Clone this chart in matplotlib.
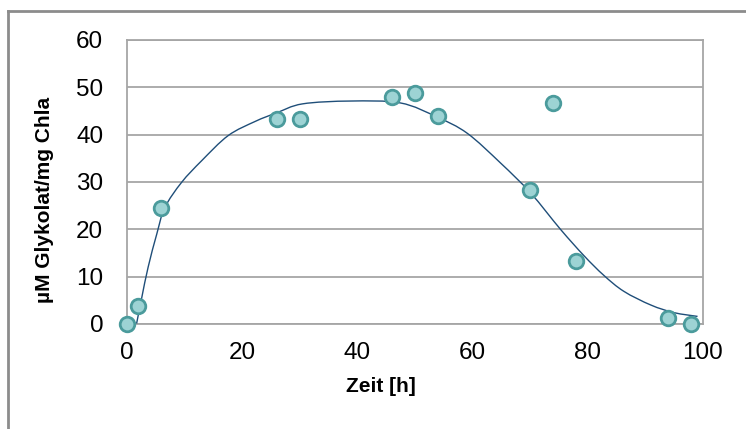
import matplotlib
matplotlib.use("Agg")
import matplotlib.pyplot as plt
from matplotlib.path import Path
from matplotlib.patches import PathPatch
from matplotlib.lines import Line2D

plt.rcParams['font.family'] = ['Liberation Sans', 'DejaVu Sans']

# measured points
zeit = [0, 2, 6, 26, 30, 46, 50, 54, 70, 74, 78, 94, 98]
glykolat = [0, 3.8, 24.5, 43.3, 43.3, 48.0, 48.8, 43.9, 28.3, 46.7, 13.3, 1.3, 0]

# fitted trend line
fit_x = [1.7, 2.6, 3.7, 5.2, 6.6, 9.5, 13.0, 17.6, 22.3, 26.0, 30.5,
         38.8, 47.5, 53.9, 59.1, 64.9, 70.1, 75.3, 79.4, 82.8, 86.3, 91.0,
         95.0, 99.1]
fit_y = [0.1, 5.6, 12.0, 19.0, 24.6, 29.9, 34.5, 39.8, 42.8, 44.6, 46.5,
         47.1, 46.7, 43.7, 40.3, 34.0, 27.7, 20.0, 14.4, 10.3, 6.9, 4.0,
         2.4, 1.6]

x_ticks = [0, 20, 40, 60, 80, 100]
y_ticks = [0, 10, 20, 30, 40, 50, 60]


def smooth_path(xs, ys):
    # Catmull-Rom style bezier, like the spreadsheet "smoothed line"
    pts = list(zip(xs, ys))
    verts = [pts[0]]
    codes = [Path.MOVETO]
    n = len(pts)
    for i in range(n - 1):
        p0 = pts[i - 1] if i > 0 else pts[i]
        p1 = pts[i]
        p2 = pts[i + 1]
        p3 = pts[i + 2] if i + 2 < n else pts[i + 1]
        c1 = (p1[0] + (p2[0] - p0[0]) / 6, p1[1] + (p2[1] - p0[1]) / 6)
        c2 = (p2[0] - (p3[0] - p1[0]) / 6, p2[1] - (p3[1] - p1[1]) / 6)
        verts += [c1, c2, p2]
        codes += [Path.CURVE4] * 3
    return Path(verts, codes)


fig = plt.figure(figsize=(7.46, 4.29), dpi=100, facecolor='white')
ax = fig.add_axes([0.170, 0.2448, 0.772, 0.662])

ax.set_xlim(0, 100)
ax.set_ylim(0, 60)
ax.set_xticks(x_ticks)
ax.set_yticks(y_ticks)
ax.grid(axis='y', color='#a6a6a6', linewidth=1.3)
ax.set_axisbelow(True)
for sp in ax.spines.values():
    sp.set_color('#a6a6a6')
    sp.set_linewidth(1.3)
ax.tick_params(axis='both', length=0, labelsize=17.5, colors='black')
ax.tick_params(axis='y', pad=17)
ax.tick_params(axis='x', pad=13)

patch = PathPatch(smooth_path(fit_x, fit_y), facecolor='none',
                  edgecolor='#1f4e79', linewidth=1.0, zorder=3)
ax.add_patch(patch)

ax.plot(zeit, glykolat, linestyle='none', marker='o', markersize=10.5,
        markerfacecolor='#9dd3d4', markeredgecolor='#4b9b9c',
        markeredgewidth=2.0, clip_on=False, zorder=4)

fig.text(381 / 746, 1 - 386 / 429, 'Zeit [h]', ha='center', va='center',
         fontsize=15, fontweight='bold')
fig.text(45 / 746, 1 - 200 / 429, 'µM Glykolat/mg Chla', ha='center',
         va='center', rotation=90, fontsize=15, fontweight='bold')

# outer chart frame (left and top edges visible)
fig.add_artist(Line2D([8 / 746, 8 / 746], [0, 1 - 11 / 429],
                      transform=fig.transFigure, color='#8c8c8c', linewidth=2))
fig.add_artist(Line2D([8 / 746, 1], [1 - 11 / 429, 1 - 11 / 429],
                      transform=fig.transFigure, color='#8c8c8c', linewidth=2))

fig.savefig('out.png', dpi=100)
